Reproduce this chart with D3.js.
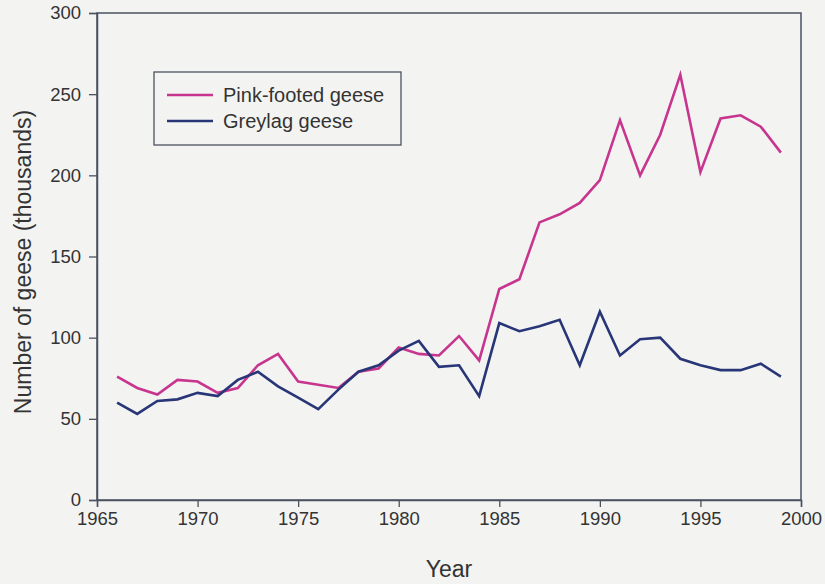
<!DOCTYPE html>
<html>
<head>
<meta charset="utf-8">
<script src="https://cdn.jsdelivr.net/npm/d3@7"></script>
<style>
  body { margin: 0; background: #f3f4f2; }
  svg { display: block; font-family: "Liberation Sans", Arial, sans-serif; }
</style>
</head>
<body>
<svg id="chart" width="825" height="584"></svg>
<script>
// years of the survey
var years = [1966,1967,1968,1969,1970,1971,1972,1973,1974,1975,1976,1977,1978,1979,1980,1981,1982,
             1983,1984,1985,1986,1987,1988,1989,1990,1991,1992,1993,1994,1995,1996,1997,1998,1999];
// counts in thousands
var pinkFooted = [76,69,65,74,73,66,69,83,90,73,71,69,79,81,94,90,89,
                  101,86,130,136,171,176,183,197,234,200,225,262,202,235,237,230,214];
var greylag = [60,53,61,62,66,64,74,79,70,63,56,68,79,83,92,98,82,
               83,64,109,104,107,111,83,116,89,99,100,87,83,80,80,84,76];
var seriesNames = ["Pink-footed geese", "Greylag geese"];
var seriesColors = ["#c8358f", "#283677"];
var xTicks = [1965,1970,1975,1980,1985,1990,1995,2000];
var yTicks = [0,50,100,150,200,250,300];

var svg = d3.select("#chart");
var margin = {top: 13, right: 24, bottom: 84, left: 97};
var width = 825 - margin.left - margin.right;
var height = 584 - margin.top - margin.bottom;

var g = svg.append("g").attr("transform", `translate(${margin.left},${margin.top})`);

var x = d3.scaleLinear().domain([1965, 2000]).range([0, width]);
var y = d3.scaleLinear().domain([0, 300]).range([height, 0]);

// frame
g.append("rect")
    .attr("width", width)
    .attr("height", height)
    .attr("fill", "none")
    .attr("stroke", "#4a5260")
    .attr("stroke-width", 1.5);

var xAxis = g.append("g")
    .attr("transform", `translate(0,${height})`)
    .call(d3.axisBottom(x).tickValues(xTicks).tickFormat(d3.format("d")).tickSizeOuter(0).tickSize(7).tickPadding(5));

var yAxis = g.append("g")
    .call(d3.axisLeft(y).tickValues(yTicks).tickSizeOuter(0).tickSize(8).tickPadding(8));

[xAxis, yAxis].forEach(a=>{
    a.select(".domain").attr("stroke", "#4a5260").attr("stroke-width", 1.5);
    a.selectAll(".tick line").attr("stroke", "#4a5260").attr("stroke-width", 1.3);
    a.selectAll(".tick text").attr("fill", "#333").style("font-size", "18.5px");
});

svg.append("text")
    .attr("x", margin.left + width / 2)
    .attr("y", 577)
    .attr("text-anchor", "middle")
    .attr("fill", "#333")
    .style("font-size", "23px")
    .text("Year");

svg.append("text")
    .attr("transform", `translate(31,262) rotate(-90)`)
    .attr("text-anchor", "middle")
    .attr("fill", "#333")
    .style("font-size", "23px")
    .text("Number of geese (thousands)");

var line = d3.line()
    .x((d, i)=>x(years[i]))
    .y(d=>y(d));

g.selectAll(".series")
    .data([pinkFooted, greylag])
    .join("path")
    .attr("class", "series")
    .attr("d", d=>line(d))
    .attr("fill", "none")
    .attr("stroke", (d, i)=>seriesColors[i])
    .attr("stroke-width", 2.6)
    .attr("stroke-linejoin", "miter");

// legend
var legend = svg.append("g").attr("transform", "translate(154,72)");
legend.append("rect")
    .attr("width", 247)
    .attr("height", 73)
    .attr("fill", "none")
    .attr("stroke", "#4a5260")
    .attr("stroke-width", 1.3);

var items = legend.selectAll(".item")
    .data(seriesNames)
    .join("g")
    .attr("class", "item")
    .attr("transform", (d, i)=>`translate(0,${23 + i * 26})`);

items.append("line")
    .attr("x1", 13)
    .attr("x2", 59)
    .attr("stroke", (d, i)=>seriesColors[i])
    .attr("stroke-width", 2.6);

items.append("text")
    .attr("x", 69)
    .attr("dy", "0.35em")
    .attr("fill", "#333")
    .style("font-size", "20px")
    .text(d=>d);
</script>
</body>
</html>
